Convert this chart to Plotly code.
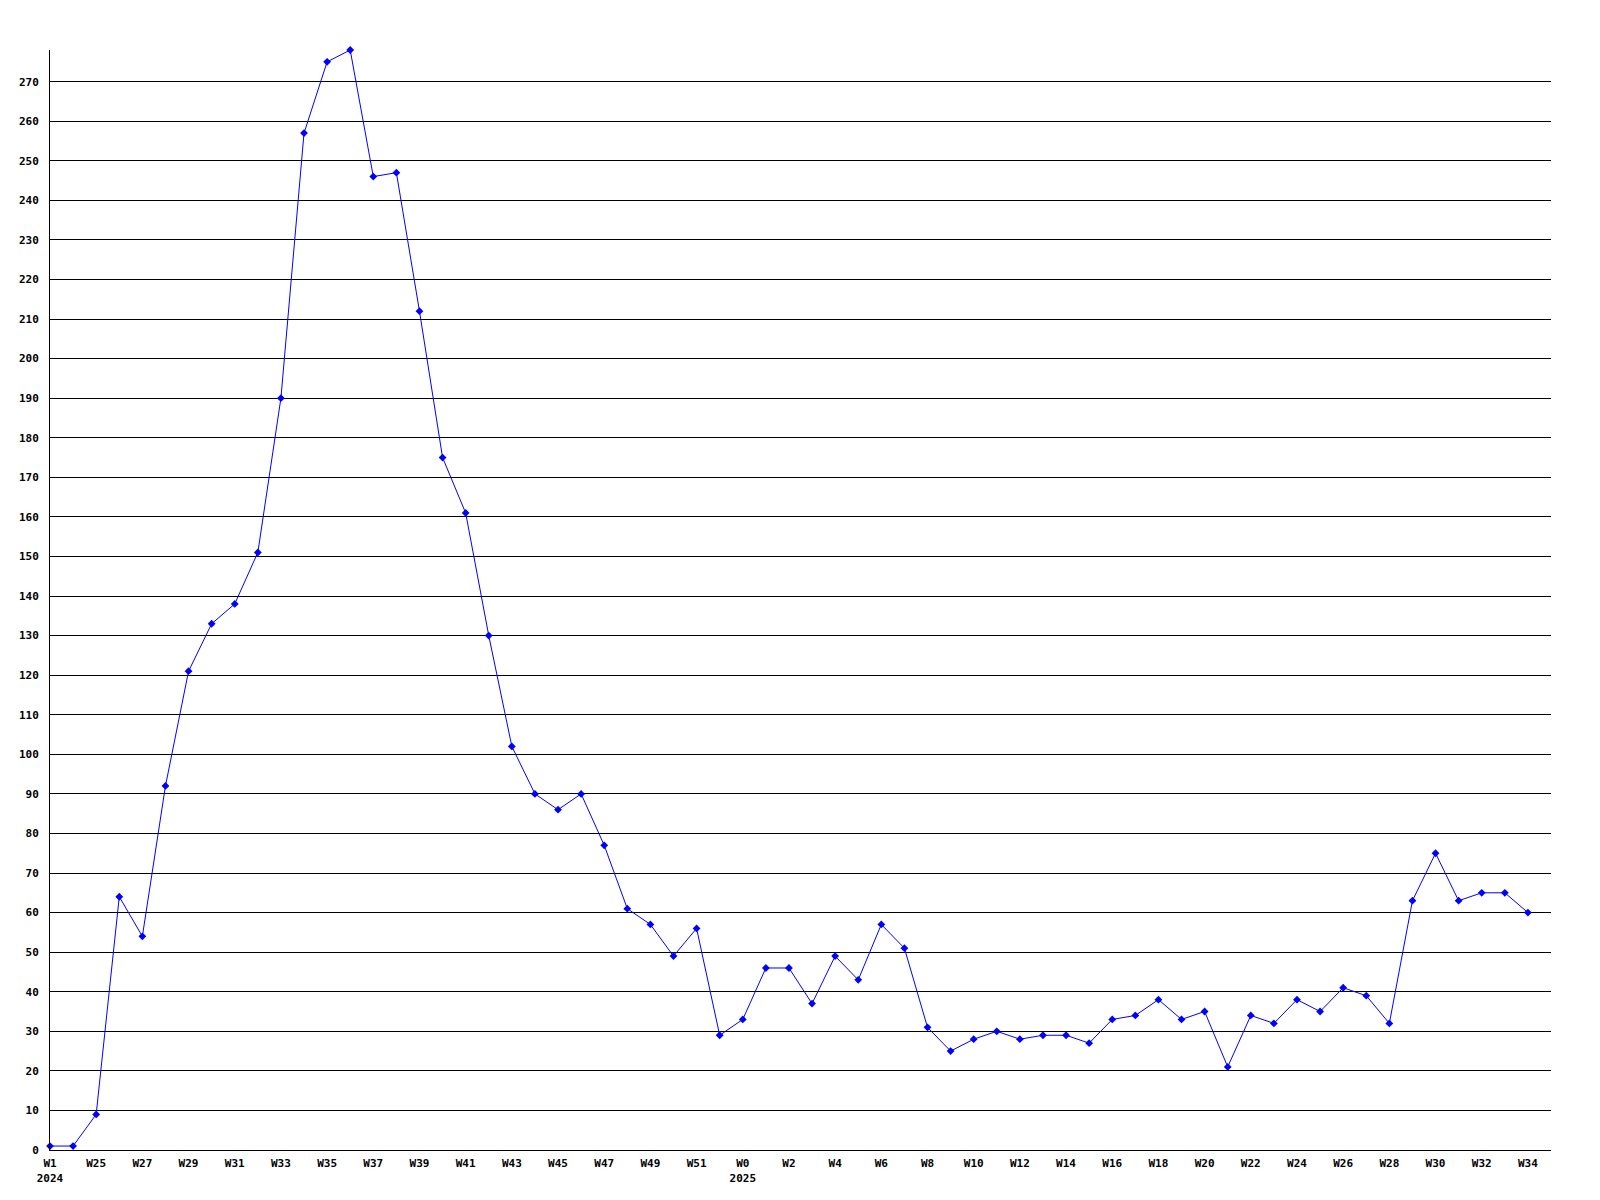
import plotly.graph_objects as go

weeks = ["W1", "W24", "W25", "W26", "W27", "W28", "W29", "W30", "W31", "W32", "W33", "W34",
         "W35", "W36", "W37", "W38", "W39", "W40", "W41", "W42", "W43", "W44", "W45", "W46",
         "W47", "W48", "W49", "W50", "W51", "W52",
         "W0", "W1", "W2", "W3", "W4", "W5", "W6", "W7", "W8", "W9", "W10", "W11", "W12",
         "W13", "W14", "W15", "W16", "W17", "W18", "W19", "W20", "W21", "W22", "W23", "W24",
         "W25", "W26", "W27", "W28", "W29", "W30", "W31", "W32", "W33", "W34"]
years = {0: "2024", 30: "2025"}
values = [1, 1, 9, 64, 54, 92, 121, 133, 138, 151, 190, 257,
          275, 278, 246, 247, 212, 175, 161, 130, 102, 90, 86, 90,
          77, 61, 57, 49, 56, 29,
          33, 46, 46, 37, 49, 43, 57, 51, 31, 25, 28, 30, 28,
          29, 29, 27, 33, 34, 38, 33, 35, 21, 34, 32, 38,
          35, 41, 39, 32, 63, 75, 63, 65, 65, 60]
y_ticks = list(range(0, 280, 10))

x = list(range(len(values)))
tickvals = [i for i in x if i % 2 == 0]
ticktext = [weeks[i] + ("<br>" + years[i] if i in years else "") for i in tickvals]

fig = go.Figure()
fig.add_trace(go.Scatter(
    x=x, y=values, mode="lines+markers",
    line=dict(color="#0000ff", width=1),
    marker=dict(symbol="diamond", size=6, color="#0000ff"),
    cliponaxis=False,
    hoverinfo="skip",
))

tickfont = dict(family="DejaVu Sans Mono", size=11, color="black", weight="bold")
fig.update_layout(
    width=1600, height=1200,
    margin=dict(l=42, r=57, t=42, b=58),
    paper_bgcolor="white", plot_bgcolor="white",
    showlegend=False,
    xaxis=dict(range=[0, 65], tickvals=tickvals, ticktext=ticktext, showgrid=False,
               zeroline=False, showline=True, linecolor="black", linewidth=1,
               ticks="", tickfont=tickfont, ticklabelstandoff=3, automargin=False,
               fixedrange=True),
    yaxis=dict(range=[0, 278], tickvals=y_ticks, showgrid=True, gridcolor="black",
               gridwidth=1, zeroline=False, showline=True, linecolor="black", linewidth=1,
               ticks="", tickfont=tickfont, ticklabelstandoff=8, automargin=False,
               fixedrange=True),
)

fig.write_html("out.html")
